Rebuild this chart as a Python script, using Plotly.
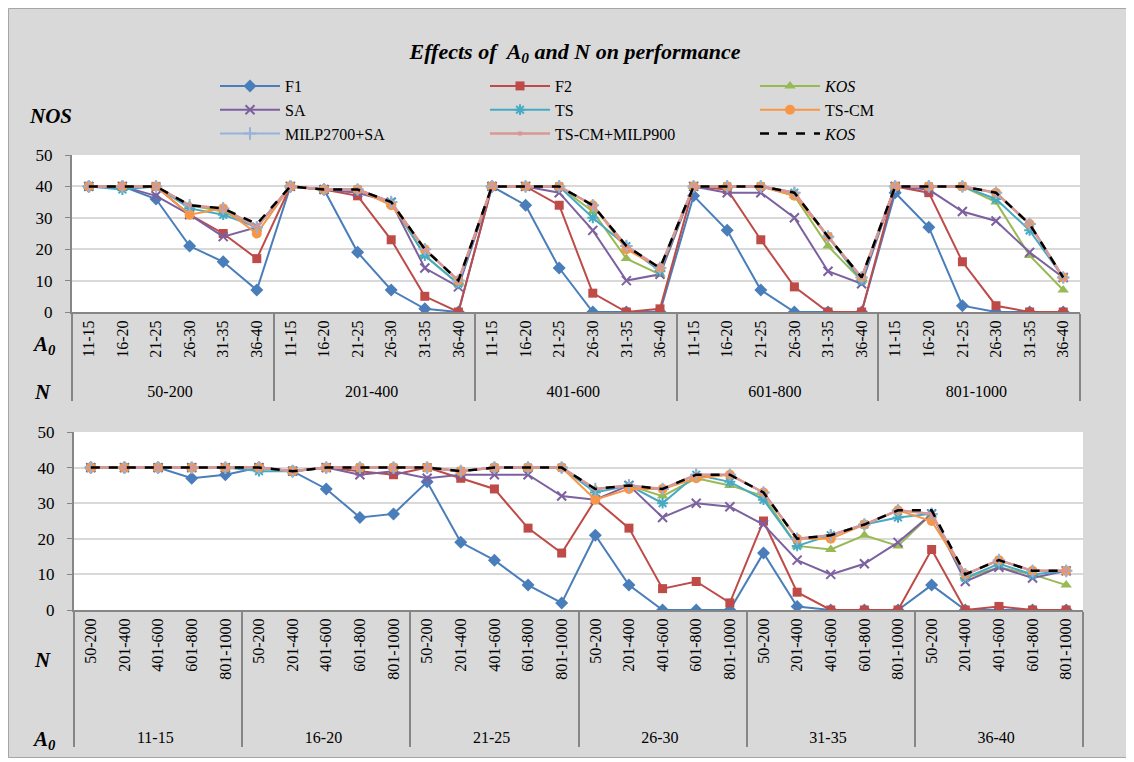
import plotly.graph_objects as go

N_groups = ["50-200", "201-400", "401-600", "601-800", "801-1000"]
A0_groups = ["11-15", "16-20", "21-25", "26-30", "31-35", "36-40"]

# values indexed [N group][A0 group]
F1 = [[40, 40, 36, 21, 16, 7],
      [40, 39, 19, 7, 1, 0],
      [40, 34, 14, 0, 0, 0],
      [37, 26, 7, 0, 0, 0],
      [38, 27, 2, 0, 0, 0]]
F2 = [[40, 40, 40, 31, 25, 17],
      [40, 39, 37, 23, 5, 0],
      [40, 40, 34, 6, 0, 1],
      [40, 39, 23, 8, 0, 0],
      [40, 38, 16, 2, 0, 0]]
KOS_G = [[40, 40, 40, 34, 32, 27],
         [40, 39, 39, 35, 18, 9],
         [40, 40, 40, 32, 17, 12],
         [40, 40, 40, 37, 21, 10],
         [40, 40, 40, 35, 18, 7]]
SA = [[40, 40, 37, 31, 24, 27],
      [40, 39, 38, 35, 14, 8],
      [40, 40, 38, 26, 10, 12],
      [40, 38, 38, 30, 13, 9],
      [40, 39, 32, 29, 19, 11]]
TS = [[40, 39, 40, 33, 31, 27],
      [40, 39, 39, 35, 18, 9],
      [40, 40, 40, 30, 21, 13],
      [40, 40, 40, 38, 24, 10],
      [40, 40, 40, 36, 26, 11]]
TSCM = [[40, 40, 40, 31, 33, 25],
        [40, 39, 39, 34, 20, 10],
        [40, 40, 40, 34, 20, 14],
        [40, 40, 40, 37, 24, 11],
        [40, 40, 40, 38, 28, 11]]
MILP_SA = [[40, 40, 40, 34, 33, 27],
           [40, 39, 39, 35, 20, 10],
           [40, 40, 40, 34, 21, 14],
           [40, 40, 40, 38, 24, 11],
           [40, 40, 40, 38, 28, 11]]
TSCM_MILP = [[40, 40, 40, 34, 33, 27],
             [40, 39, 39, 35, 20, 10],
             [40, 40, 40, 34, 21, 14],
             [40, 40, 40, 38, 24, 11],
             [40, 40, 40, 38, 28, 11]]
KOS_BEST = [[40, 40, 40, 34, 33, 28],
            [40, 39, 39, 35, 20, 10],
            [40, 40, 40, 34, 21, 14],
            [40, 40, 40, 38, 24, 11],
            [40, 40, 40, 38, 28, 11]]

series = [
    ("F1", F1, dict(color="#4A7EBB", width=2), dict(symbol="diamond", size=10, color="#4A7EBB")),
    ("F2", F2, dict(color="#BE4B48", width=2), dict(symbol="square", size=9, color="#BE4B48")),
    ("<i>KOS</i>", KOS_G, dict(color="#98B954", width=2), dict(symbol="triangle-up", size=10, color="#98B954")),
    ("SA", SA, dict(color="#7D60A0", width=2), dict(symbol="x-thin", size=9, line=dict(width=2, color="#7D60A0"), color="#7D60A0")),
    ("TS", TS, dict(color="#46AAC5", width=2), dict(symbol="asterisk", size=9, line=dict(width=2, color="#46AAC5"), color="#46AAC5")),
    ("TS-CM", TSCM, dict(color="#F79646", width=2), dict(symbol="circle", size=10, color="#F79646")),
    ("MILP2700+SA", MILP_SA, dict(color="#95B3D7", width=2), dict(symbol="cross-thin", size=9, line=dict(width=2, color="#95B3D7"), color="#95B3D7")),
    ("TS-CM+MILP900", TSCM_MILP, dict(color="#D99694", width=2.5), dict(symbol="square", size=4, color="#D99694")),
    ("<i>KOS</i>", KOS_BEST, dict(color="black", width=2.5, dash="dash"), None),
]

PAD_TOP = "\u00a0" * 2   # lowers the outer label row of the upper chart
PAD_BOT = "\u00a0" * 8   # lowers the outer label row of the lower chart
top_x = [[n for n in N_groups for a in A0_groups], [PAD_TOP + a for n in N_groups for a in A0_groups]]
bot_x = [[a for a in A0_groups for n in N_groups], [PAD_BOT + n for a in A0_groups for n in N_groups]]

fig = go.Figure()
for name, m, line, marker in series:
    y_top = [m[i][j] for i in range(len(N_groups)) for j in range(len(A0_groups))]
    y_bot = [m[i][j] for j in range(len(A0_groups)) for i in range(len(N_groups))]
    mode = "lines+markers" if marker else "lines"
    kw = dict(marker=marker) if marker else {}
    fig.add_trace(go.Scatter(x=top_x, y=y_top, name=name, mode=mode, line=line,
                             xaxis="x", yaxis="y", showlegend=True, **kw))
    fig.add_trace(go.Scatter(x=bot_x, y=y_bot, name=name, mode=mode, line=line,
                             xaxis="x2", yaxis="y2", showlegend=False, **kw))

FONT = "Liberation Serif"
W, H = 1121, 750
OFF = 8  # page offset of the figure in the browser
L, R, T, B = 64, 46, 147, 148
pw = W - L - R
ph = H - T - B

def xfrac(sx):
    return (sx - OFF - L) / pw

def yfrac(sy):
    return (H - B - (sy - OFF)) / ph

n_cat = len(N_groups) * len(A0_groups)
axis_common = dict(showgrid=False, showline=True, linecolor="#868686", linewidth=2,
                   tickfont=dict(family=FONT, size=16, color="black"), tickangle=-90,
                   showdividers=True, dividercolor="#868686", dividerwidth=1.5,
                   ticks="", type="multicategory", automargin=False,
                   range=[-0.5, n_cat - 0.5])
yaxis_common = dict(range=[0, 50], dtick=10, showgrid=True, gridcolor="#D9D9D9", gridwidth=2,
                    showline=True, linecolor="#868686", linewidth=2, zeroline=False,
                    ticks="outside", ticklen=5, tickcolor="#868686", automargin=False,
                    ticklabelstandoff=9,
                    tickfont=dict(family=FONT, size=17, color="black"))

fig.update_layout(
    width=W, height=H,
    margin=dict(l=L, r=R, t=T, b=B, autoexpand=False),
    paper_bgcolor="#D9D9D9", plot_bgcolor="white",
    font=dict(family=FONT, color="black"),
    title=dict(text="<b><i>Effects of  A<sub>0</sub> and N on performance</i></b>",
               x=(575 - OFF) / W, xanchor="center", y=1 - 43 / H, yanchor="middle",
               font=dict(family=FONT, size=22)),
    xaxis=dict(domain=[xfrac(72), xfrac(1080)], anchor="y", **axis_common),
    yaxis=dict(domain=[yfrac(312), yfrac(155)], anchor="x", **yaxis_common),
    xaxis2=dict(domain=[xfrac(74), xfrac(1083)], anchor="y2", **axis_common),
    yaxis2=dict(domain=[yfrac(610), yfrac(432)], anchor="x2", **yaxis_common),
    legend=dict(orientation="h", xref="container", yref="container",
                x=207 / W, y=1 - 61 / H, xanchor="left", yanchor="top",
                entrywidth=195, entrywidthmode="pixels", bgcolor="rgba(0,0,0,0)",
                font=dict(family=FONT, size=16), itemwidth=60, tracegroupgap=0),
    showlegend=True,
)

ann = [
    ("<b><i>NOS</i></b>", 50, 116),
    ("<b><i>A<sub>0</sub></i></b>", 44, 345),
    ("<b><i>N</i></b>", 42, 392),
    ("<b><i>N</i></b>", 42, 660),
    ("<b><i>A<sub>0</sub></i></b>", 44, 740),
]
for text, px, py in ann:
    fig.add_annotation(text=text, xref="paper", yref="paper",
                       x=xfrac(px), y=yfrac(py), showarrow=False,
                       xanchor="center", yanchor="middle",
                       font=dict(family=FONT, size=21, color="black"))

fig.add_shape(type="rect", xref="paper", yref="paper",
              x0=xfrac(OFF + 0.5), x1=xfrac(OFF + W - 0.5), y0=yfrac(OFF + H - 0.5), y1=yfrac(OFF + 0.5),
              line=dict(color="#A6A6A6", width=1), layer="below")

fig.write_html("out.html")
